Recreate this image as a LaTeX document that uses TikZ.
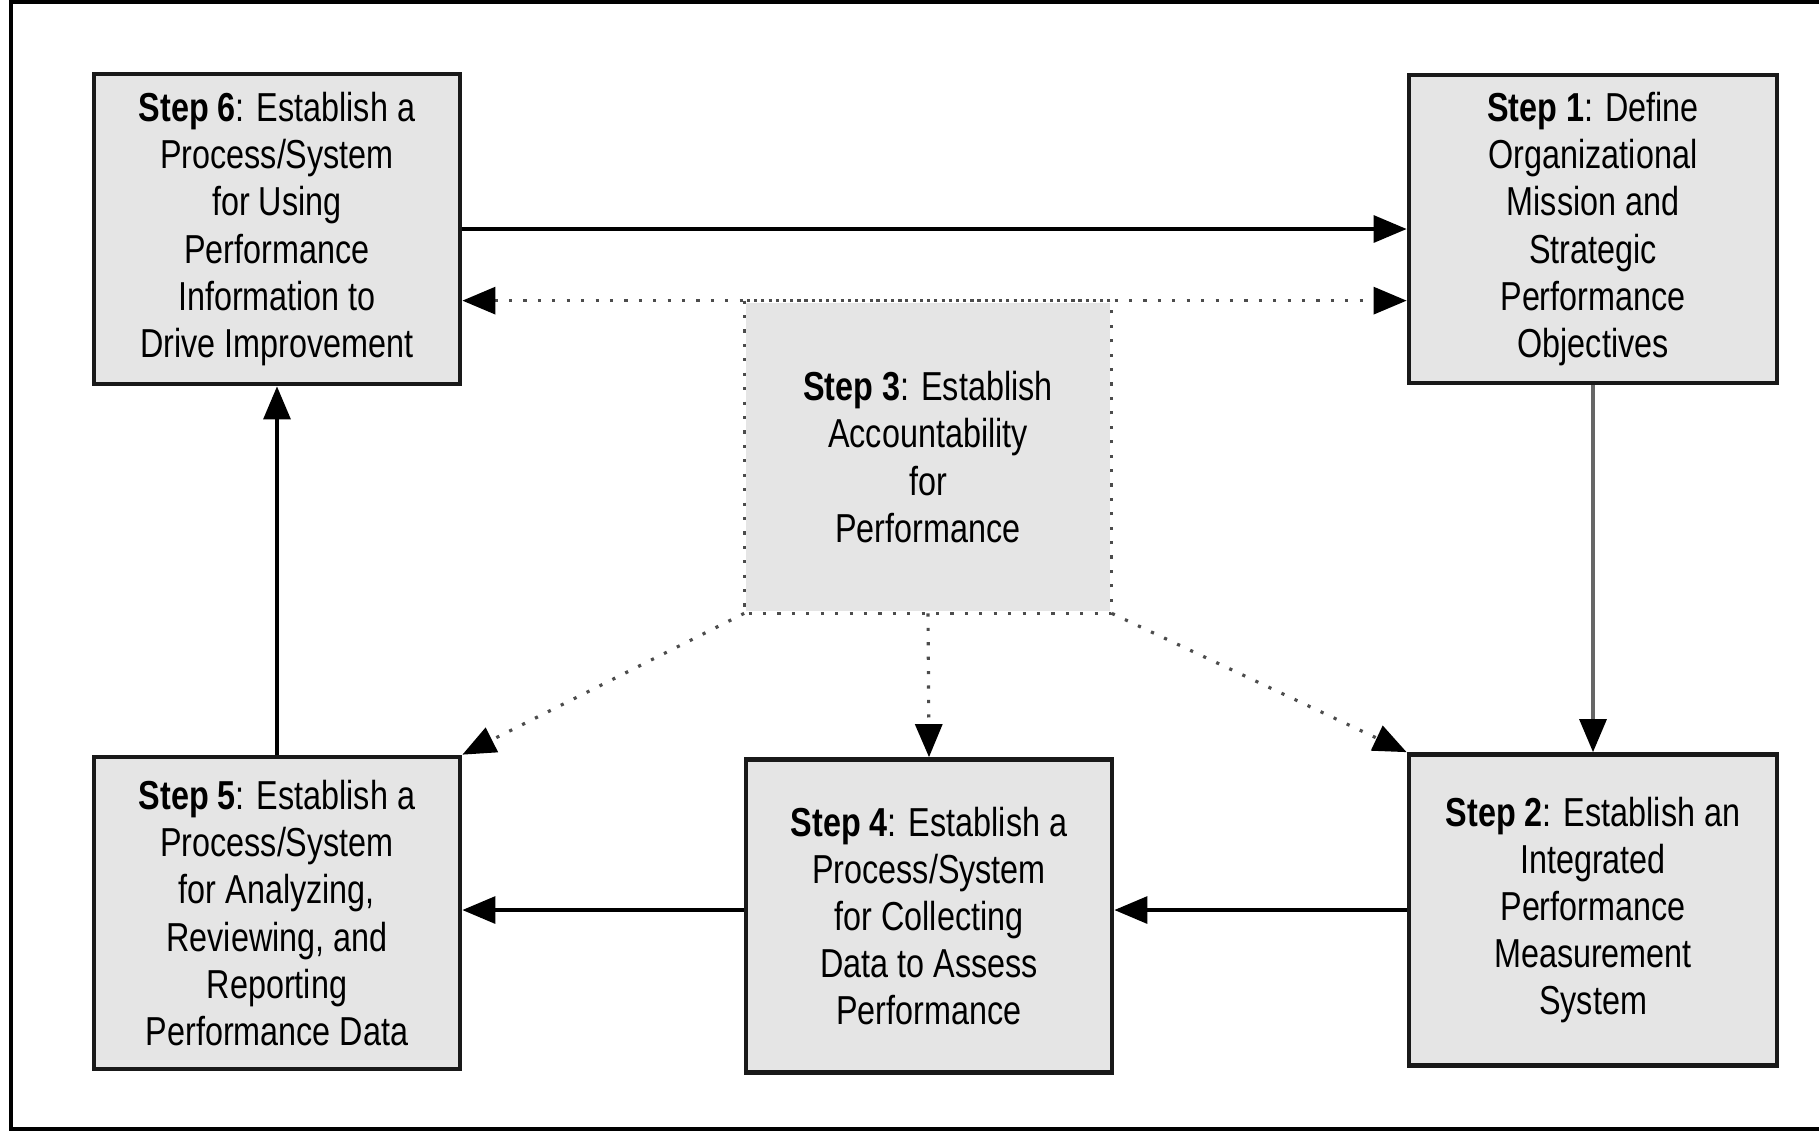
\documentclass[tikz,border=0pt]{standalone}
\usepackage{fontspec}
\setmainfont{Liberation Sans}[FakeStretch=0.8]
\usepackage{tikz}
\usetikzlibrary{arrows.meta}

\tikzset{
  stepbox/.style={draw=black!90, line width=1.3pt, fill=black!10, align=center,
    inner sep=0pt, font=\fontsize{11.5}{13.4}\selectfont},
  flow/.style={line width=0.9pt, ->},
  dotline/.style={black!70, line width=0.9pt, dash pattern=on 0.9pt off 3.2pt},
  >={Triangle[length=0.33cm, width=0.27cm, color=black]}
}

\begin{document}
\begin{tikzpicture}[x=0.01cm, y=-0.01cm]
    \useasboundingbox (0,0) rectangle (1819,1132);

    % Frame (open on the right)
    \draw[line width=1.2pt] (1819,2) -- (11,2) -- (11,1129) -- (1819,1129);

    % Steps
    \node[stepbox, minimum width=3.66cm, minimum height=3.1cm] (s6) at (277,229)
        {\textbf{Step 6}: Establish a\\Process/System\\for Using\\Performance\\Information to\\Drive Improvement};
    \node[stepbox, minimum width=3.68cm, minimum height=3.08cm] (s1) at (1593,229)
        {\textbf{Step 1}: Define\\Organizational\\Mission and\\Strategic\\Performance\\Objectives};
    \node[stepbox, draw=none, minimum width=3.63cm, minimum height=3.08cm] (s3) at (928,457)
        {\textbf{Step 3}: Establish\\Accountability\\for\\Performance};
    \draw[dotline] (s3.north west) rectangle (s3.south east);
    \node[stepbox, minimum width=3.66cm, minimum height=3.12cm] (s5) at (277,913)
        {\textbf{Step 5}: Establish a\\Process/System\\for Analyzing,\\Reviewing, and\\Reporting\\Performance Data};
    \node[stepbox, minimum width=3.66cm, minimum height=3.13cm] (s4) at (929,916)
        {\textbf{Step 4}: Establish a\\Process/System\\for Collecting\\Data to Assess\\Performance};
    \node[stepbox, minimum width=3.68cm, minimum height=3.11cm] (s2) at (1593,910)
        {\textbf{Step 2}: Establish an\\Integrated\\Performance\\Measurement\\System};

    % Main cycle
    \draw[flow] (s6.east) -- (s1.west);
    \draw[flow, black!60] (s1.south) -- (s2.north);
    \draw[flow] (s2.west) -- (s2.west -| s4.east);
    \draw[flow] (s4.west |- s2.west) -- (s2.west -| s5.east);
    \draw[flow] (s5.north) -- (s6.south);

    % Accountability links
    \draw[dotline, <->] (s6.east |- s3.north) -- (s1.west |- s3.north);
    \draw[dotline, ->] (s3.south west) -- (s5.north east);
    \draw[dotline, ->] (s3.south) -- (s4.north);
    \draw[dotline, ->] (s3.south east) -- (s2.north west);
\end{tikzpicture}
\end{document}
